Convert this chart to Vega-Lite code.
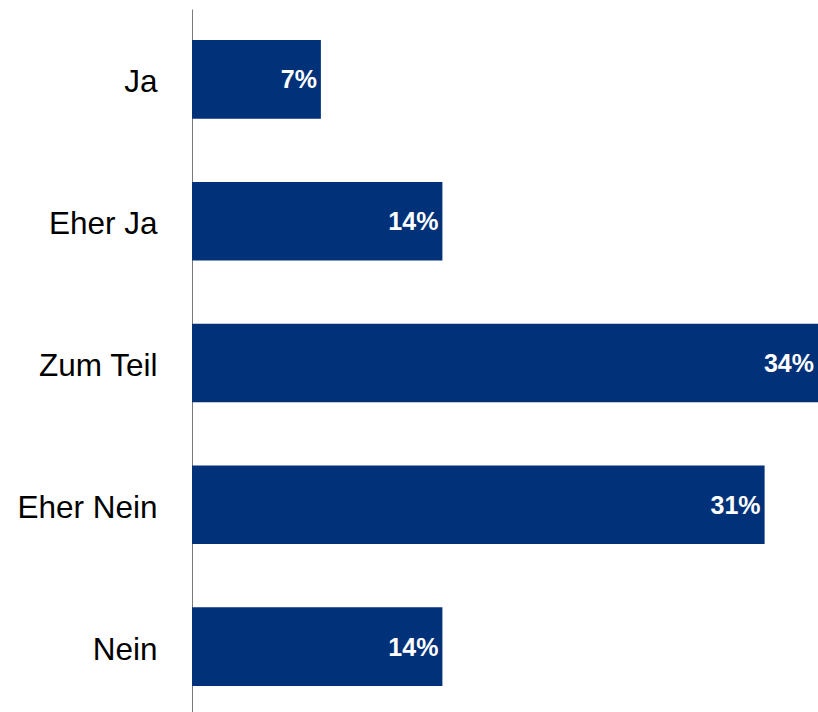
{
  "$schema": "https://vega.github.io/schema/vega-lite/v6.json",
  "autosize": {"type": "none"},
  "padding": {"left": 192, "top": 9, "right": 0, "bottom": 0},
  "width": 626,
  "height": 708,
  "background": "white",
  "config": {"view": {"stroke": null}},
  "data": {
    "values": [
      {"category": "Ja", "value": 0.070},
      {"category": "Eher Ja", "value": 0.136},
      {"category": "Zum Teil", "value": 0.340},
      {"category": "Eher Nein", "value": 0.311},
      {"category": "Nein", "value": 0.136}
    ]
  },
  "encoding": {
    "y": {
      "field": "category",
      "type": "nominal",
      "sort": null,
      "scale": {"paddingInner": 0.446, "paddingOuter": 0.219},
      "axis": {
        "title": null,
        "ticks": false,
        "grid": false,
        "domain": true,
        "domainColor": "#7a7a7a",
        "domainWidth": 1,
        "labelFont": "Liberation Sans",
        "labelFontSize": 31.5,
        "labelColor": "#000000",
        "labelPadding": 35,
        "labelOffset": 4
      }
    },
    "x": {
      "field": "value",
      "type": "quantitative",
      "scale": {"domain": [0, 0.34], "nice": false, "zero": true},
      "axis": null
    }
  },
  "layer": [
    {"mark": {"type": "bar", "color": "#013178"}},
    {
      "mark": {
        "type": "text",
        "align": "right",
        "baseline": "middle",
        "dx": -4,
        "dy": 1,
        "font": "Liberation Sans",
        "fontSize": 25,
        "fontWeight": "bold",
        "color": "#ffffff"
      },
      "encoding": {
        "text": {"field": "value", "type": "quantitative", "format": ".0%"}
      }
    }
  ]
}
